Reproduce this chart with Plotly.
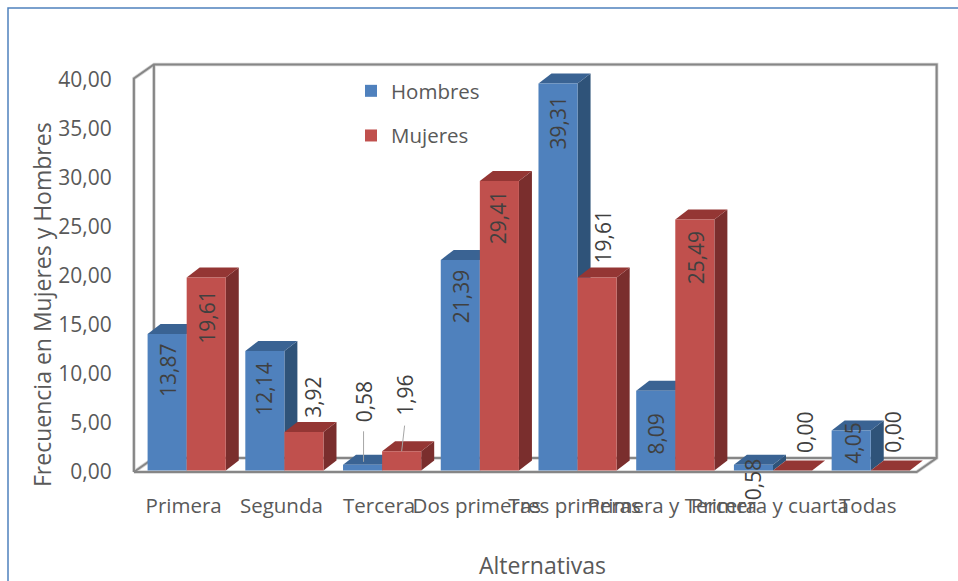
import plotly.graph_objects as go

# Survey results by answer alternative
categories = ["Primera", "Segunda", "Tercera", "Dos primeras", "Tres primeras",
              "Primera y Tercera", "Primera y cuarta", "Todas"]
hombres = [13.87, 12.14, 0.58, 21.39, 39.31, 8.09, 0.58, 4.05]
mujeres = [19.61, 3.92, 1.96, 29.41, 19.61, 25.49, 0.00, 0.00]
y_ticks = [0, 5, 10, 15, 20, 25, 30, 35, 40]

W, H = 958, 581
ML, MR, MT, MB = 130, 13, 55, 101
BAR_W = 0.4
DEPTH_X, DEPTH_Y = 13 / 97.7, 10 / 9.84   # bar depth in axis units
FRAME_L, FRAME_R = -0.54, 7.47            # front corners of the floor
FRAME_DX, FRAME_DY = 20 / 97.7, 14 / 9.8  # wall depth in axis units

FONT = "Open Sans"
GREY = "#595959"
LABEL = "#404040"
BLUE, BLUE_TOP, BLUE_SIDE = "#4F81BD", "#3A6393", "#2F5379"
RED, RED_TOP, RED_SIDE = "#C0504D", "#943634", "#7A2E2D"


def poly(points):
    return "M" + " L".join(f"{x},{y}" for x, y in points) + " Z"


def open_path(points):
    return "M" + " L".join(f"{x},{y}" for x, y in points)


def depth_faces(x0, value, top, side):
    """Top and side faces of one bar, behind its front face."""
    x1 = x0 + BAR_W
    side_pts = [(x1, 0), (x1 + DEPTH_X, DEPTH_Y), (x1 + DEPTH_X, value + DEPTH_Y), (x1, value)]
    top_pts = [(x0, value), (x0 + DEPTH_X, value + DEPTH_Y), (x1 + DEPTH_X, value + DEPTH_Y), (x1, value)]
    return [
        dict(type="path", path=poly(side_pts), xref="x", yref="y", layer="below",
             fillcolor=side, line=dict(width=0)),
        dict(type="path", path=poly(top_pts), xref="x", yref="y", layer="below",
             fillcolor=top, line=dict(width=0)),
    ]


positions = list(range(len(categories)))
fig = go.Figure()
fig.add_bar(x=[p - BAR_W / 2 for p in positions], y=hombres, width=BAR_W, name="Hombres",
            marker=dict(color=BLUE, line=dict(width=0)), legendgroup="h")
fig.add_bar(x=[p + BAR_W / 2 for p in positions], y=mujeres, width=BAR_W, name="Mujeres",
            marker=dict(color=RED, line=dict(width=0)), legendgroup="m")
# Carries the tick labels of the value axis
fig.add_scatter(x=[0], y=[0], yaxis="y2", mode="markers", marker=dict(opacity=0), showlegend=False,
                hoverinfo="skip")

# Walls and floor of the box
b_l, b_r = FRAME_L + FRAME_DX, FRAME_R + FRAME_DX
frame_paths = [
    [(FRAME_L, 0), (FRAME_L, 40.15), (b_l, 40.15 + FRAME_DY), (b_r, 40.15 + FRAME_DY), (b_r, FRAME_DY), (FRAME_R, 0), (FRAME_L, 0)],
    [(b_l, 40.15 + FRAME_DY), (b_l, FRAME_DY), (b_r, FRAME_DY)],
    [(FRAME_L, 0), (b_l, FRAME_DY)],
]
shapes = []
for width, color in ((3.5, "#D4D4D4"), (2, "#868686")):
    for pts in frame_paths:
        shapes.append(dict(type="path", path=open_path(pts), xref="x", yref="y2", layer="below",
                           line=dict(color=color, width=width)))

# Depth faces, left to right so that nearer faces cover farther ones
for p, h, m in zip(positions, hombres, mujeres):
    shapes += depth_faces(p - BAR_W, h, BLUE_TOP, BLUE_SIDE)
    shapes += depth_faces(p, m, RED_TOP, RED_SIDE)

# Chart border: only top and left edges fall inside the page
px = lambda v: (v - ML) / (W - ML - MR)
py = lambda v: 1 - (v - MT) / (H - MT - MB)
shapes.append(dict(type="path", xref="paper", yref="paper",
                   path=open_path([(px(8), py(H + 5)), (px(8), py(8)), (px(W + 5), py(8))]),
                   line=dict(color="#4F81BD", width=1.5)))

# Label placement relative to the top of each bar, in pixels (dx, dy up)
offsets_h = [(1, -37), (-1, -38), (1, 63), (1, -37), (0, -40), (0, -43), (-1, -15), (1, -13)]
offsets_m = [(1, -40), (9, 35), (4, 56), (-1, -37), (6, 40), (1, -38), (12, 38), (2, 38)]
annotations = []
for series, offs, sign in ((hombres, offsets_h, -1), (mujeres, offsets_m, 1)):
    for p, v, (dx, dy) in zip(positions, series, offs):
        annotations.append(dict(x=p + sign * BAR_W / 2, y=v, xref="x", yref="y", text=f"{v:.2f}".replace(".", ","),
                                textangle=-90, showarrow=False, xshift=dx, yshift=dy,
                                font=dict(family=FONT, size=21, color=LABEL)))

# Leader lines of the two small labels in the third group
shapes.append(dict(type="line", xref="x", yref="y", x0=2 - BAR_W / 2 + 0.01, x1=2 - BAR_W / 2 + 0.01,
                   y0=hombres[2] + 0.3, y1=hombres[2] + 3.4, line=dict(color="#A6A6A6", width=1)))
shapes.append(dict(type="line", xref="x", yref="y", x0=2 + BAR_W / 2, x1=2 + BAR_W / 2 + 0.03,
                   y0=mujeres[2], y1=mujeres[2] + 2.6, line=dict(color="#A6A6A6", width=1)))

# Axis titles
annotations.append(dict(x=px(542), y=py(565), xref="paper", yref="paper", text="Alternativas", showarrow=False,
                        xanchor="center", yanchor="middle", font=dict(family=FONT, size=23, color=GREY)))
annotations.append(dict(x=px(42), y=py(305), xref="paper", yref="paper", text="Frecuencia en Mujeres y Hombres",
                        xanchor="center", yanchor="middle", textangle=-90, showarrow=False,
                        font=dict(family=FONT, size=23, color=GREY)))

fig.update_layout(
    width=W, height=H, margin=dict(l=ML, r=MR, t=MT, b=MB),
    paper_bgcolor="white", plot_bgcolor="white", separators=",.",
    barmode="overlay", showlegend=True, shapes=shapes, annotations=annotations,
    font=dict(family=FONT, color=GREY),
    legend=dict(x=px(351), y=py(71), xanchor="left", yanchor="top", tracegroupgap=15, itemwidth=30,
                bgcolor="rgba(0,0,0,0)", font=dict(family=FONT, size=20.5, color=GREY)),
    xaxis=dict(range=[-0.58, 7.76], tickvals=positions, ticktext=categories, tickangle=0, showgrid=False,
               zeroline=False, showline=False, ticks="outside", ticklen=7, tickcolor="rgba(0,0,0,0)",
               ticklabelshift=-3, tickfont=dict(family=FONT, size=20.5, color=GREY)),
    yaxis=dict(range=[-0.965, 42.2], visible=False, showgrid=False, zeroline=False),
    yaxis2=dict(range=[-0.816, 42.55], overlaying="y", side="left", anchor="x", tickvals=y_ticks, tickformat=".2f",
                showgrid=False, zeroline=False, showline=False, ticks="outside", ticklen=13,
                tickcolor="rgba(0,0,0,0)", tickfont=dict(family=FONT, size=21, color=GREY)),
)

fig.write_html("out.html")
